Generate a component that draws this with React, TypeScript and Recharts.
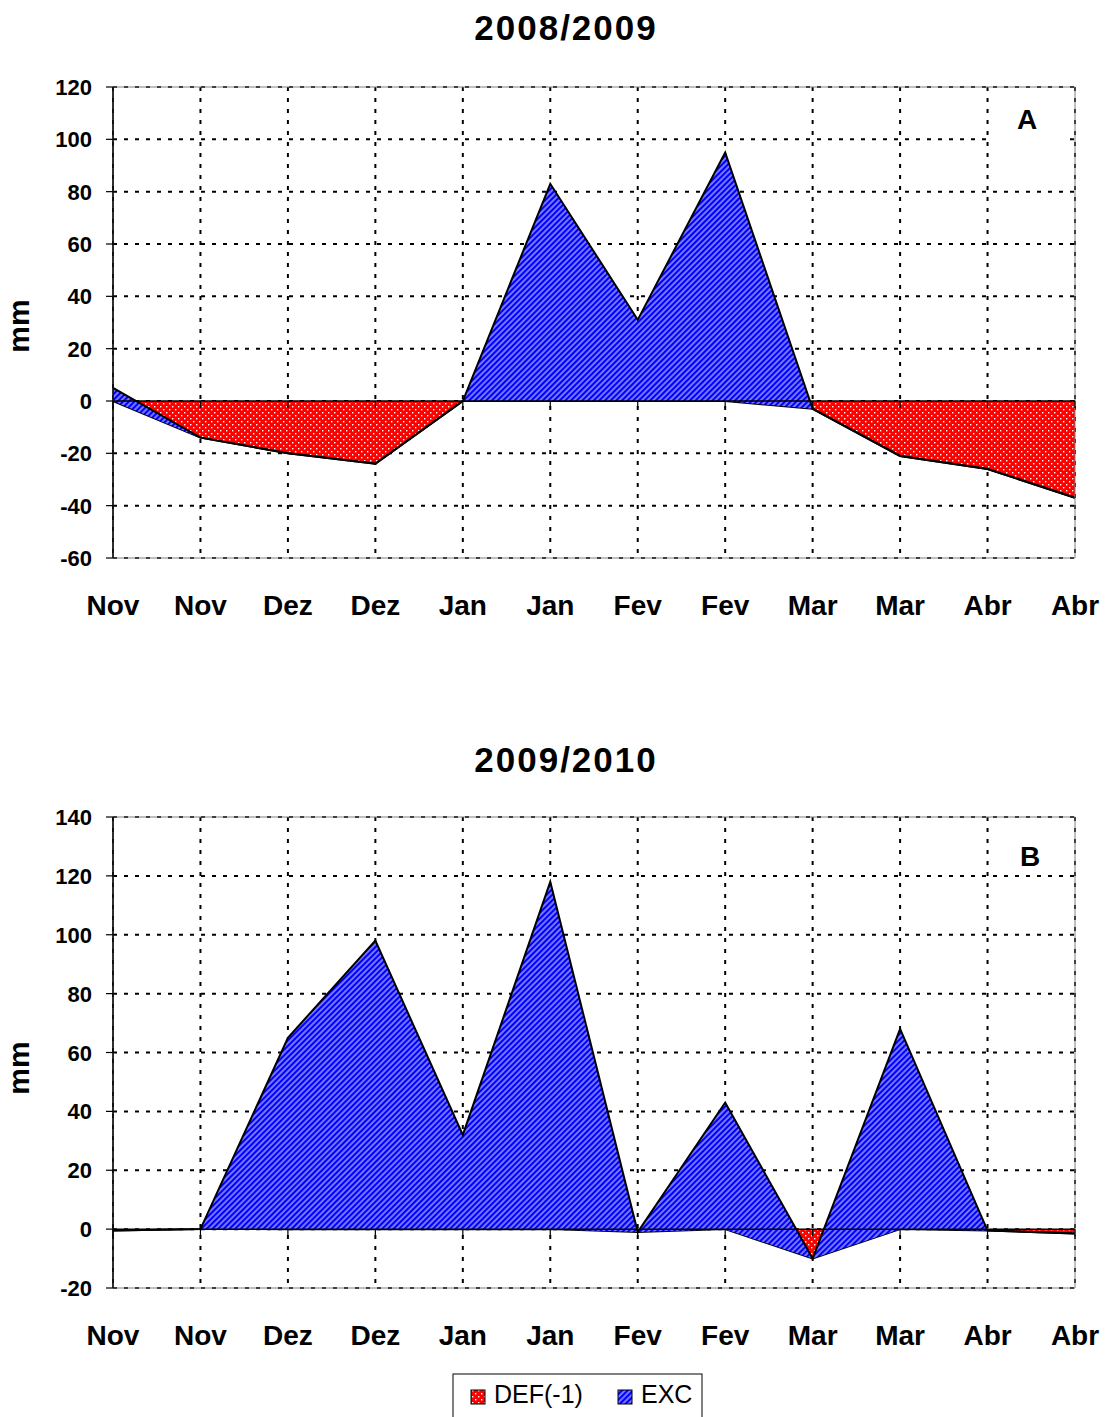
import React from 'react';
import { AreaChart, Area, XAxis, YAxis, CartesianGrid, ReferenceLine, ReferenceArea } from 'recharts';

const categories = ['Nov', 'Nov', 'Dez', 'Dez', 'Jan', 'Jan', 'Fev', 'Fev', 'Mar', 'Mar', 'Abr', 'Abr'];

const defA = [0, -14, -20, -24, 0, 0, 0, 0, -3, -21, -26, -37];
const excA = [5, 0, 0, 0, 0, 83, 31, 95, 0, 0, 0, 0];

const defB = [-0.5, 0, 0, 0, 0, 0, -1, 0, -10, 0, -0.5, -1.5];
const excB = [0, 0, 65, 98, 32, 118, 0, 43, 0, 68, 0, 0];

const ticksA = [-60, -40, -20, 0, 20, 40, 60, 80, 100, 120];
const ticksB = [-20, 0, 20, 40, 60, 80, 100, 120, 140];

const seriesNames = ['DEF(-1)', 'EXC'];
const titles = ['2008/2009', '2009/2010'];
const panelLabels = ['A', 'B'];
const yLabel = 'mm';

const FONT = '"Liberation Sans", Arial, Helvetica, sans-serif';

const xIdx = categories.map((_, i) => i);

function build(def: number[], exc: number[]) {
  return categories.map((c, i) => ({ i, cat: c, def: def[i], exc: exc[i] }));
}

const XTick = (props: any) => {
  const { x, y, payload } = props;
  return (
    <text x={x} y={y + 57} textAnchor="middle" fontFamily={FONT} fontWeight="bold" fontSize={28} fill="#000">
      {categories[payload.value]}
    </text>
  );
};

const YTick = (props: any) => {
  const { x, y, payload } = props;
  return (
    <text x={x} y={y + 8} textAnchor="end" fontFamily={FONT} fontWeight="bold" fontSize={22} fill="#000">
      {payload.value}
    </text>
  );
};

const ZeroAxis = (props: any) => {
  const { x1, x2, y1 } = props;
  const n = categories.length;
  const step = (x2 - x1) / (n - 1);
  return (
    <g>
      <line x1={x1} x2={x2} y1={y1} y2={y1} stroke="#000" strokeWidth={1.5} />
      {categories.map((_, k) => (
        <line key={k} x1={x1 + k * step} x2={x1 + k * step} y1={y1} y2={y1 + 7} stroke="#000" strokeWidth={1.2} />
      ))}
    </g>
  );
};

const Patterns = ({ suffix }: { suffix: string }) => (
  <defs>
    <pattern id={'redDots' + suffix} patternUnits="userSpaceOnUse" width="6" height="6">
      <rect width="6" height="6" fill="#FF0000" />
      <rect x="1" y="1" width="1.4" height="1.4" fill="#ffffff" />
      <rect x="4" y="4" width="1.4" height="1.4" fill="#ffffff" />
    </pattern>
    <pattern id={'blueStripes' + suffix} patternUnits="userSpaceOnUse" width="4" height="4" patternTransform="rotate(45)">
      <rect width="4" height="4" fill="#0000FF" />
      <line x1="1" y1="0" x2="1" y2="4" stroke="#a8a8ff" strokeWidth="1.4" />
    </pattern>
  </defs>
);

const Panel = ({ def, exc, ticks, suffix }: { def: number[]; exc: number[]; ticks: number[]; suffix: string }) => {
  const data = build(def, exc);
  const yMin = ticks[0];
  const yMax = ticks[ticks.length - 1];
  return (
    <AreaChart width={1110} height={640} data={data} margin={{ top: 87, right: 35, bottom: 0, left: 0 }}>
      <Patterns suffix={suffix} />
      <CartesianGrid stroke="#000" strokeWidth={2} strokeDasharray="4 7" />
      <XAxis
        type="number"
        dataKey="i"
        domain={[0, categories.length - 1]}
        ticks={xIdx}
        interval={0}
        axisLine={false}
        tickLine={false}
        tickSize={0}
        tickMargin={0}
        height={82}
        tick={<XTick />}
      />
      <YAxis
        type="number"
        domain={[yMin, yMax]}
        ticks={ticks}
        interval={0}
        width={113}
        axisLine={{ stroke: '#000', strokeWidth: 1.5 }}
        tickLine={{ stroke: '#000', strokeWidth: 1.2 }}
        tickSize={7}
        tickMargin={14}
        tick={<YTick />}
      />
      <Area
        type="linear"
        dataKey="def"
        name={seriesNames[0]}
        stackId="s"
        stroke="#000"
        strokeWidth={2}
        fill={'url(#redDots' + suffix + ')'}
        fillOpacity={1}
        dot={false}
        activeDot={false}
        isAnimationActive={false}
      />
      <Area
        type="linear"
        dataKey="exc"
        name={seriesNames[1]}
        stackId="s"
        stroke="#000"
        strokeWidth={2}
        fill={'url(#blueStripes' + suffix + ')'}
        fillOpacity={1}
        dot={false}
        activeDot={false}
        isAnimationActive={false}
      />
      <ReferenceLine y={0} shape={<ZeroAxis />} />
      <ReferenceArea x1={0} x2={categories.length - 1} y1={yMin} y2={yMax} fill="none" stroke="#808080" strokeWidth={1} />
    </AreaChart>
  );
};

export default function App() {
  return (
    <div style={{ position: 'absolute', left: 0, top: 0, width: 1110, height: 1417, background: '#fff', overflow: 'hidden' }}>
      <div style={{ position: 'absolute', left: 0, top: 0 }}>
        <Panel def={defA} exc={excA} ticks={ticksA} suffix="A" />
      </div>
      <div style={{ position: 'absolute', left: 0, top: 730 }}>
        <Panel def={defB} exc={excB} ticks={ticksB} suffix="B" />
      </div>
      <svg width={1110} height={1417} style={{ position: 'absolute', left: 0, top: 0, pointerEvents: 'none' }}>
        <Patterns suffix="L" />
        <text x={566} y={40} textAnchor="middle" fontFamily={FONT} fontWeight="bold" fontSize={35} letterSpacing={2} fill="#000">
          {titles[0]}
        </text>
        <text x={566} y={772} textAnchor="middle" fontFamily={FONT} fontWeight="bold" fontSize={35} letterSpacing={2} fill="#000">
          {titles[1]}
        </text>
        <text x={29} y={326} textAnchor="middle" transform="rotate(-90 29 326)" fontFamily={FONT} fontWeight="bold" fontSize={30} fill="#000">
          {yLabel}
        </text>
        <text x={29} y={1068} textAnchor="middle" transform="rotate(-90 29 1068)" fontFamily={FONT} fontWeight="bold" fontSize={30} fill="#000">
          {yLabel}
        </text>
        <rect x={993} y={97} width={70} height={50} fill="#fff" />
        <text x={1027} y={129} textAnchor="middle" fontFamily={FONT} fontWeight="bold" fontSize={28} fill="#000">
          {panelLabels[0]}
        </text>
        <rect x={993} y={832} width={72} height={42} fill="#fff" />
        <text x={1030} y={866} textAnchor="middle" fontFamily={FONT} fontWeight="bold" fontSize={28} fill="#000">
          {panelLabels[1]}
        </text>
        <rect x={453} y={1374} width={249} height={60} fill="#fff" stroke="#000" strokeWidth={1} />
        <rect x={471} y={1390} width={14} height={14} fill="url(#redDotsL)" stroke="#000" strokeWidth={1} />
        <text x={494} y={1403} fontFamily={FONT} fontSize={25} fill="#000">
          {seriesNames[0]}
        </text>
        <rect x={618} y={1390} width={14} height={14} fill="url(#blueStripesL)" stroke="#000" strokeWidth={1} />
        <text x={641} y={1403} fontFamily={FONT} fontSize={25} fill="#000">
          {seriesNames[1]}
        </text>
      </svg>
    </div>
  );
}
